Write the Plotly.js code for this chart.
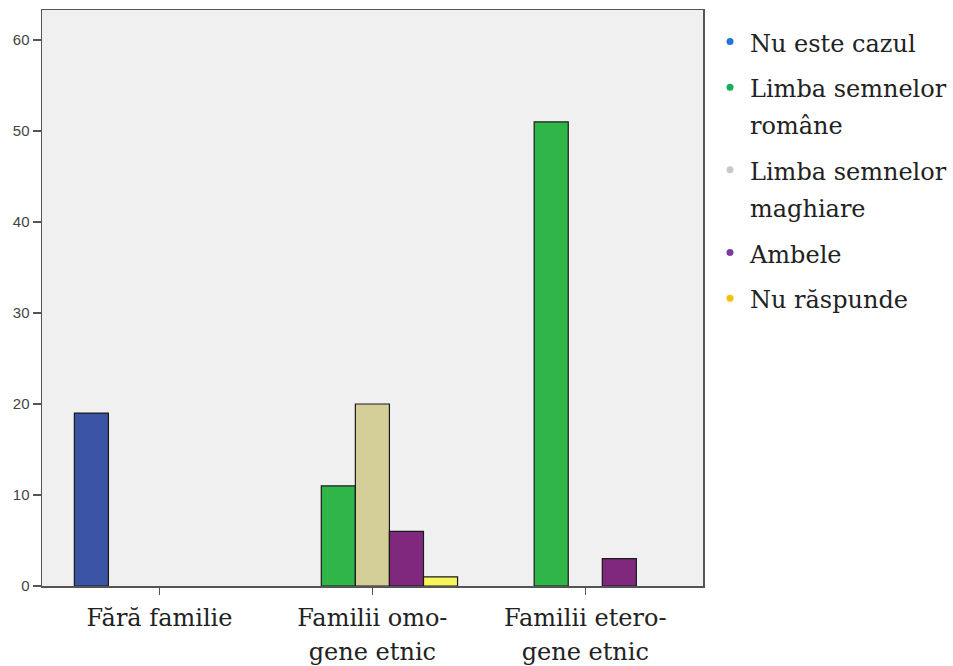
<!DOCTYPE html>
<html>
<head>
<meta charset="utf-8">
<script src="https://cdn.plot.ly/plotly-3.0.1.min.js"></script>
<style>html,body{margin:0;padding:0;background:#fff;}#chart{width:953px;height:666px;}</style>
</head>
<body>
<div id="chart"></div>
<script>
const categories = ["Fără familie", "Familii omo-<br>gene etnic", "Familii etero-<br>gene etnic"];
const seriesNames = ["Nu este cazul", "Limba semnelor<br>române", "Limba semnelor<br>maghiare", "Ambele", "Nu răspunde"];
const nuEsteCazul = [19, null, null];
const limbaRomane = [null, 11, 51];
const limbaMaghiare = [null, 20, null];
const ambele = [null, 6, 3];
const nuRaspunde = [null, 1, null];
const yTicks = [0, 10, 20, 30, 40, 50, 60];

const barColors = ["#3b54a5", "#2fb548", "#d4cf98", "#80287e", "#f7f65c"];
const legendColors = ["#2176d2", "#17ad5c", "#c9c9c9", "#7a3aa1", "#f6c100"];
const values = [nuEsteCazul, limbaRomane, limbaMaghiare, ambele, nuRaspunde];
const xIdx = [0, 1, 2];

function sized(txt, px) {
  return txt.split("<br>").map(t => '<span style="font-size:' + px + 'px">' + t + '</span>').join("<br>");
}

const traces = [];
values.forEach((v, i) => {
  traces.push({
    type: "bar", x: xIdx, y: v, name: seriesNames[i].replace("<br>", " "), showlegend: false,
    marker: {color: barColors[i], line: {color: "#1a1a1a", width: 1.2}},
    hoverinfo: "y"
  });
});
// legend entries: one per text line so the line spacing can match
seriesNames.forEach((nm, i) => {
  nm.split("<br>").forEach((line, j) => {
    traces.push({
      type: "scatter", mode: "markers", x: [null], y: [null], name: sized(line, 24),
      legendgroup: "g" + i, showlegend: true,
      marker: {color: j === 0 ? legendColors[i] : "rgba(0,0,0,0)", size: 7, symbol: "circle"}
    });
  });
});

const layout = {
  width: 953, height: 666,
  margin: {l: 41.5, r: 250, t: 9.5, b: 80, autoexpand: false},
  paper_bgcolor: "#ffffff", plot_bgcolor: "#f0f0f0",
  barmode: "group", bargap: 0.2, bargroupgap: 0,
  showlegend: true,
  legend: {x: 1.0106, xanchor: "left", y: 0.986, yanchor: "top",
    font: {family: "DejaVu Serif, serif", size: 26, color: "#222"},
    itemwidth: 30, tracegroupgap: 9, bgcolor: "rgba(0,0,0,0)"},
  xaxis: {
    range: [-0.552, 2.553], tickvals: xIdx, ticktext: categories.map(c => sized(c, 24)),
    showline: true, linecolor: "#555", linewidth: 1.5, mirror: true,
    ticks: "outside", ticklen: 7, tickcolor: "#555", tickwidth: 1.5,
    showgrid: false, zeroline: false,
    tickfont: {family: "DejaVu Serif, serif", size: 26, color: "#222"}
  },
  yaxis: {
    range: [0, 63.3], tickvals: yTicks,
    showline: true, linecolor: "#555", linewidth: 1.5, mirror: true,
    ticks: "outside", ticklen: 8, tickcolor: "#555", tickwidth: 1.5,
    showgrid: false, zeroline: false,
    tickfont: {family: "Liberation Sans, Arial, sans-serif", size: 15, color: "#444"}
  }
};
Plotly.newPlot("chart", traces, layout, {displayModeBar: false, staticPlot: true});
</script>
</body>
</html>
